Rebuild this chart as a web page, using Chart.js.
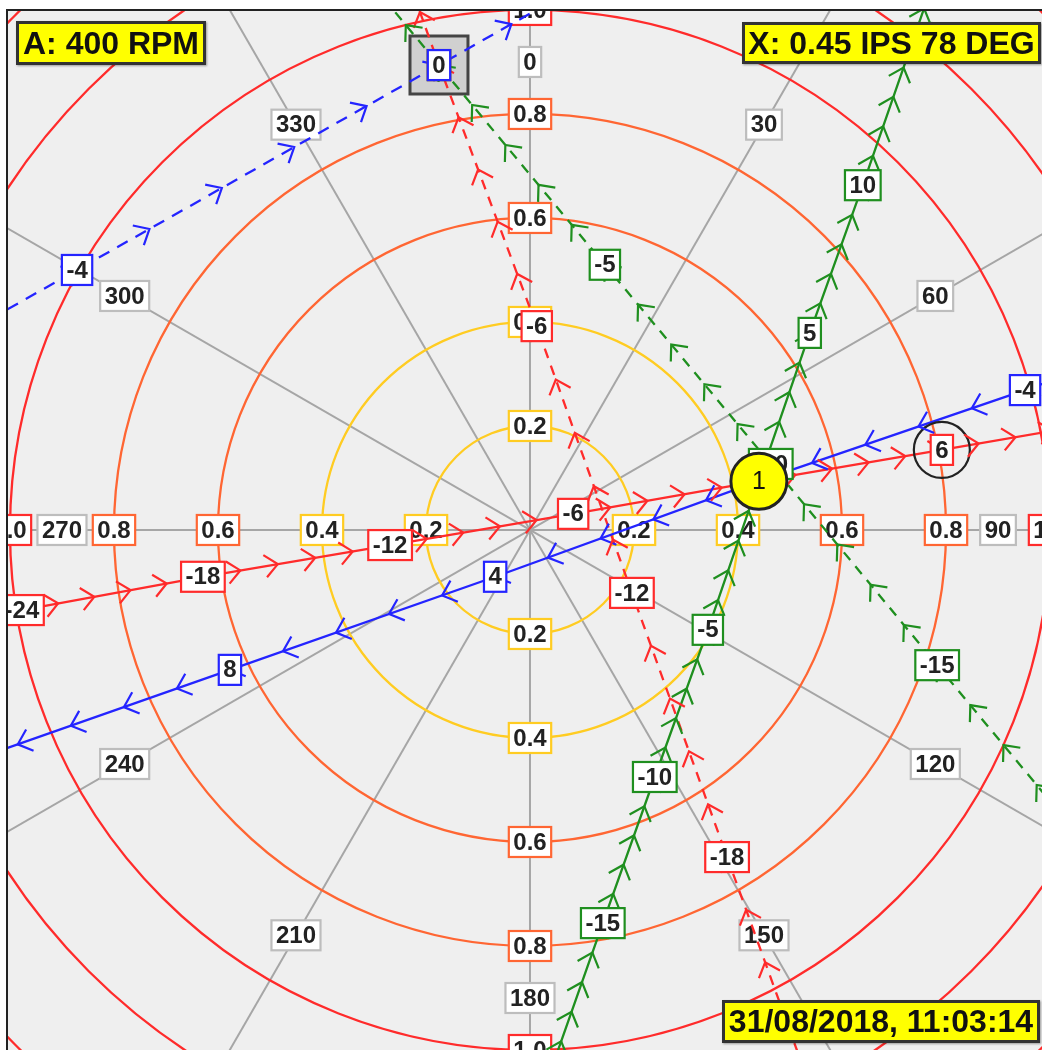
<!DOCTYPE html>
<html><head><meta charset="utf-8">
<script src="https://cdn.jsdelivr.net/npm/chart.js@4.4.1/dist/chart.umd.min.js"></script>
<style>
html,body{margin:0;padding:0;background:#fff;width:1042px;height:1050px;overflow:hidden;position:relative;font-family:"Liberation Sans",Arial,sans-serif;}
#wrap{position:absolute;left:8px;top:11px;width:1034px;height:1039px;}
canvas{display:block;background:#efefef;}
#frameL{position:absolute;left:6px;top:9px;width:2px;height:1041px;background:#222;}
#frameT{position:absolute;left:6px;top:9px;width:1036px;height:2px;background:#222;}
.tag{position:absolute;box-sizing:border-box;background:#ffff00;border:3px solid #333;font:bold 32px "Liberation Sans",Arial,sans-serif;color:#111;display:flex;align-items:center;justify-content:center;white-space:nowrap;box-shadow:1px 1px 2px rgba(0,0,0,0.35);}
</style></head>
<body>
<div id="wrap"><canvas id="c" width="1034" height="1039"></canvas></div>
<div id="frameL"></div><div id="frameT"></div>
<div class="tag" id="tagA" style="left:16px;top:21px;width:190px;height:44px;"></div>
<div class="tag" id="tagX" style="left:742px;top:22px;width:299px;height:42px;"></div>
<div class="tag" id="tagT" style="left:722px;top:1000px;width:318px;height:43px;"></div>
<script>
// ---------- data (amplitude in IPS, plotted as x = A·sin(phase), y = A·cos(phase)) ----------
const ringValues = [0.2, 0.4, 0.6, 0.8, 1.0, 1.2, 1.4];
const angleTicks = [0, 30, 60, 90, 120, 150, 180, 210, 240, 270, 300, 330];
const angleLabelRadius = 0.9;
const speedRpm = 400;
const vibAmp = 0.45;
const vibPhaseDeg = 78;
const timestamp = '31/08/2018, 11:03:14';

const redSolidWeights = [-24, -18, -12, -6, 0, 6, 12];
const redSolidX = [-0.977, -0.629, -0.269, 0.083, 0.440, 0.792, 1.146];
const redSolidY = [-0.154, -0.090, -0.029, 0.031, 0.094, 0.154, 0.215];

const greenSolidWeights = [-20, -15, -10, -5, 0, 5, 10, 15, 20];
const greenSolidX = [0.040, 0.140, 0.240, 0.342, 0.440, 0.538, 0.640, 0.738, 0.837];
const greenSolidY = [-1.040, -0.756, -0.475, -0.192, 0.094, 0.379, 0.663, 0.946, 1.231];

const blueSolidWeights = [-8, -4, 0, 4, 8, 12];
const blueSolidX = [1.462, 0.952, 0.440, -0.067, -0.577, -1.087];
const blueSolidY = [0.452, 0.269, 0.094, -0.090, -0.269, -0.448];

const redDashWeights = [-24, -18, -12, -6, 0, 6];
const redDashX = [0.562, 0.379, 0.196, 0.013, -0.175, -0.358];
const redDashY = [-1.135, -0.629, -0.121, 0.392, 0.894, 1.404];

const greenDashWeights = [-20, -15, -10, -5, 0, 5];
const greenDashX = [1.102, 0.783, 0.463, 0.144, -0.175, -0.494];
const greenDashY = [-0.644, -0.260, 0.127, 0.510, 0.894, 1.279];

const blueDashWeights = [-8, -4, 0, 4];
const blueDashX = [-1.567, -0.871, -0.175, 0.521];
const blueDashY = [0.106, 0.500, 0.894, 1.288];

const trialX = [-0.175];
const trialY = [0.894];
const markX = [0.792];
const markY = [0.154];

// ---------- styles ----------
const RED = '#ff2b2b', ORANGE = '#ff6633', GOLD = '#ffcc22', GREEN = '#1f8f1f', BLUE = '#2424ff';
const ringColors = [GOLD, GOLD, ORANGE, ORANGE, RED, RED, RED];
const TAG_FONT = 'bold 24px "Liberation Sans", Arial, sans-serif';

document.getElementById('tagA').textContent = 'A: ' + speedRpm + ' RPM';
document.getElementById('tagX').textContent = 'X: ' + vibAmp.toFixed(2) + ' IPS ' + vibPhaseDeg + ' DEG';
document.getElementById('tagT').textContent = timestamp;

const series = [
  {w: redSolidWeights, x: redSolidX, y: redSolidY, color: RED, dash: []},
  {w: greenSolidWeights, x: greenSolidX, y: greenSolidY, color: GREEN, dash: []},
  {w: blueSolidWeights, x: blueSolidX, y: blueSolidY, color: BLUE, dash: []},
  {w: redDashWeights, x: redDashX, y: redDashY, color: RED, dash: [10, 8]},
  {w: greenDashWeights, x: greenDashX, y: greenDashY, color: GREEN, dash: [10, 8]},
  {w: blueDashWeights, x: blueDashX, y: blueDashY, color: BLUE, dash: [12, 9]}
];

function drawTag(ctx, text, px, py, border) {
  ctx.font = TAG_FONT;
  const w = ctx.measureText(text).width + 9, h = 30;
  ctx.setLineDash([]);
  ctx.fillStyle = '#ffffff';
  ctx.fillRect(px - w / 2, py - h / 2, w, h);
  ctx.strokeStyle = border; ctx.lineWidth = 2.2;
  ctx.strokeRect(px - w / 2, py - h / 2, w, h);
  ctx.fillStyle = '#222';
  ctx.textAlign = 'center'; ctx.textBaseline = 'middle';
  ctx.fillText(text, px, py + 1);
}

function chevron(ctx, x, y, ang, color) {
  const L = 17, spread = 0.72;
  ctx.setLineDash([]);
  ctx.strokeStyle = color; ctx.lineWidth = 2.2;
  ctx.beginPath();
  ctx.moveTo(x - L * Math.cos(ang - spread), y - L * Math.sin(ang - spread));
  ctx.lineTo(x, y);
  ctx.lineTo(x - L * Math.cos(ang + spread), y - L * Math.sin(ang + spread));
  ctx.stroke();
}

const decor = {
  id: 'decor',
  beforeDatasetsDraw(chart) {
    const {ctx, scales: {x, y}} = chart;
    const cx = x.getPixelForValue(0), cy = y.getPixelForValue(0);
    ctx.save();
    ctx.lineWidth = 2; ctx.strokeStyle = '#a6a6a6';
    angleTicks.forEach(a => {
      const r = a * Math.PI / 180;
      ctx.beginPath(); ctx.moveTo(cx, cy);
      ctx.lineTo(x.getPixelForValue(2 * Math.sin(r)), y.getPixelForValue(2 * Math.cos(r)));
      ctx.stroke();
    });
    ringValues.forEach((v, i) => {
      ctx.strokeStyle = ringColors[i]; ctx.lineWidth = 2.3;
      ctx.beginPath(); ctx.arc(cx, cy, x.getPixelForValue(v) - cx, 0, 2 * Math.PI); ctx.stroke();
    });
    ringValues.forEach((v, i) => {
      [[0, v], [v, 0], [0, -v], [-v, 0]].forEach(p => {
        drawTag(ctx, v.toFixed(1), x.getPixelForValue(p[0]), y.getPixelForValue(p[1]), ringColors[i]);
      });
    });
    angleTicks.forEach(a => {
      const r = a * Math.PI / 180;
      drawTag(ctx, String(a), x.getPixelForValue(angleLabelRadius * Math.sin(r)),
              y.getPixelForValue(angleLabelRadius * Math.cos(r)), '#bdbdbd');
    });
    ctx.restore();
  },
  beforeDatasetDraw(chart, args) {
    if (chart.data.datasets[args.index].isResult) return false;
  },
  afterDatasetsDraw(chart) {
    const ctx = chart.ctx;
    ctx.save();
    const sets = chart.data.datasets.map((d, i) => ({d, meta: chart.getDatasetMeta(i)})).filter(o => o.d.isSeries);
    sets.forEach(({d, meta}) => {
      const pts = meta.data;
      for (let i = 0; i < pts.length - 1; i++) {
        const p = pts[i], q = pts[i + 1];
        const ang = Math.atan2(q.y - p.y, q.x - p.x);
        for (let k = 1; k <= 5; k++) {
          const t = k / 5;
          chevron(ctx, p.x + (q.x - p.x) * t, p.y + (q.y - p.y) * t, ang, d.borderColor);
        }
      }
    });
    sets.forEach(({d, meta}) => {
      meta.data.forEach((el, i) => drawTag(ctx, String(d.weights[i]), el.x, el.y, d.borderColor));
    });
    chart.data.datasets.forEach((d, i) => {
      if (!d.isResult) return;
      const meta = chart.getDatasetMeta(i);
      meta.data.forEach(el => {
        el.draw(ctx, chart.chartArea);
        ctx.fillStyle = '#111'; ctx.font = '25px "Liberation Sans", Arial, sans-serif';
        ctx.textAlign = 'center'; ctx.textBaseline = 'middle';
        ctx.fillText(d.resultLabel, el.x, el.y + 1);
      });
    });
    ctx.restore();
  }
};

const datasets = [];
datasets.push({
  data: trialX.map((v, i) => ({x: v, y: trialY[i]})),
  pointStyle: 'rect', pointRadius: 41, pointBackgroundColor: '#d0d0d0',
  pointBorderColor: '#444', pointBorderWidth: 3, showLine: false, order: 10
});
series.forEach(s => {
  datasets.push({
    isSeries: true, weights: s.w,
    data: s.w.map((w, i) => ({x: s.x[i], y: s.y[i]})),
    showLine: true, borderColor: s.color, borderWidth: 2.3, borderDash: s.dash,
    pointRadius: 0, fill: false, tension: 0, order: 5
  });
});
datasets.push({
  data: markX.map((v, i) => ({x: v, y: markY[i]})),
  pointRadius: 28, pointBackgroundColor: 'rgba(0,0,0,0)', pointBorderColor: '#222',
  pointBorderWidth: 2.2, showLine: false, order: 1
});
datasets.push({
  isResult: true, resultLabel: '1',
  data: [{x: vibAmp * Math.sin(vibPhaseDeg * Math.PI / 180), y: vibAmp * Math.cos(vibPhaseDeg * Math.PI / 180)}],
  pointRadius: 28, pointBackgroundColor: '#ffff00', pointBorderColor: '#222',
  pointBorderWidth: 3, showLine: false, order: 0
});

new Chart(document.getElementById('c'), {
  type: 'scatter',
  data: {datasets},
  options: {
    responsive: false, animation: false, events: [],
    layout: {padding: 0, autoPadding: false},
    plugins: {legend: {display: false}, tooltip: {enabled: false}},
    scales: {
      x: {type: 'linear', min: -1.0038, max: 0.9846, display: false},
      y: {type: 'linear', min: -1.0, max: 0.998, display: false}
    }
  },
  plugins: [decor]
});
</script>
</body></html>
